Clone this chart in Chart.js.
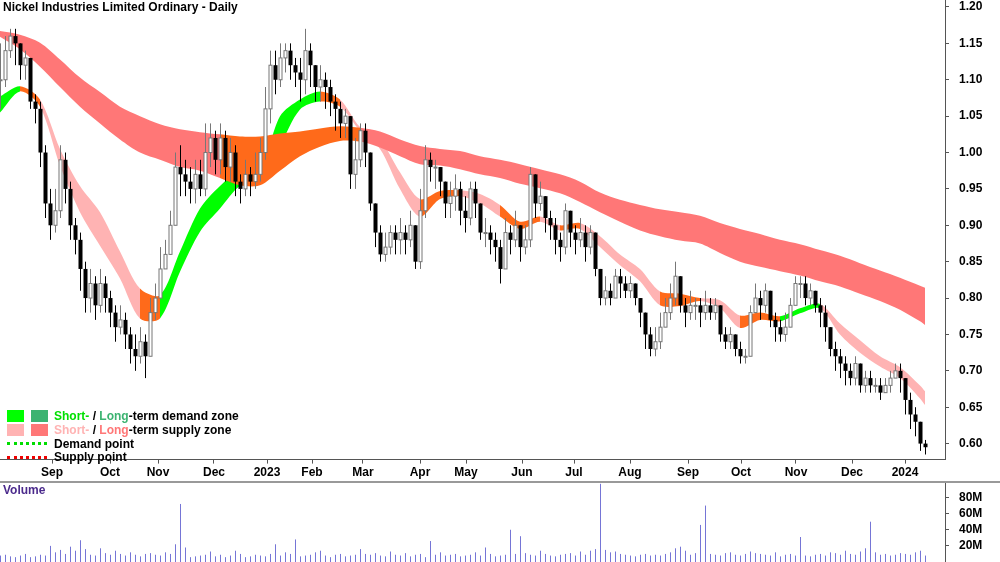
<!DOCTYPE html>
<html>
<head>
<meta charset="utf-8">
<script src="https://cdn.jsdelivr.net/npm/chart.js@4.4.0/dist/chart.umd.min.js"></script>
<style>
  body { margin: 0; background: #fff; font-family: 'Liberation Sans Narrow', 'Liberation Sans', Arial, sans-serif; }
  #wrap { position: relative; width: 1000px; height: 562px; overflow: hidden; }
  #price { position: absolute; left: 0; top: 0; width: 1000px; height: 482px; }
  #volume { position: absolute; left: 0; top: 483px; width: 1000px; height: 79px; }
  #sep { position: absolute; left: 0; top: 481px; width: 1000px; height: 0; border-top: 2px solid #999; }
  .txt { position: absolute; font-size: 12px; font-weight: bold; color: #000; white-space: nowrap; }
  .box { position: absolute; width: 17px; height: 12px; }
  .dot { position: absolute; width: 40px; height: 0; border-top: 3px dotted; }
</style>
</head>
<body>
<div id="wrap">
  <canvas id="price" width="1000" height="482"></canvas>
  <div id="sep"></div>
  <canvas id="volume" width="1000" height="79"></canvas>

  <div class="txt" style="left:3px; top:0px;">Nickel Industries Limited Ordinary - Daily</div>
  <div class="txt" style="left:3px; top:483px; color:#4b2a8c;">Volume</div>

  <div class="box" style="left:7px; top:410px; background:#00ff00;"></div>
  <div class="box" style="left:31px; top:410px; background:#3cb371;"></div>
  <div class="txt" style="left:54px; top:409px;"><span style="color:#00e000">Short-</span> / <span style="color:#3cb371">Long</span>-term demand zone</div>
  <div class="box" style="left:7px; top:424px; background:#ffb3b3;"></div>
  <div class="box" style="left:31px; top:424px; background:#ff7777;"></div>
  <div class="txt" style="left:54px; top:423px;"><span style="color:#ffb3b3">Short-</span> / <span style="color:#ff7777">Long</span>-term supply zone</div>
  <div class="dot" style="left:7px; top:442px; border-color:#00dd00;"></div>
  <div class="txt" style="left:54px; top:437px;">Demand point</div>
  <div class="dot" style="left:7px; top:456px; border-color:#ee0000;"></div>
  <div class="txt" style="left:54px; top:450px;">Supply point</div>
</div>

<script>
// ---------- data (one bar per ~2 trading days) ----------
const closes = [
  1.10,1.14,1.16,1.15,1.12,1.13,1.07,1.06,1.00,0.93,
  0.90,0.92,0.99,0.95,0.90,0.88,0.84,0.80,0.82,0.79,
  0.82,0.80,0.78,0.76,0.77,0.75,0.73,0.72,0.74,0.72,
  0.78,0.80,0.84,0.86,0.90,0.98,0.97,0.96,0.95,0.97,
  0.95,1.00,1.02,0.99,1.02,0.98,1.00,0.96,0.95,0.97,
  0.96,0.97,1.00,1.06,1.12,1.10,1.13,1.14,1.12,1.11,
  1.10,1.14,1.12,1.09,1.10,1.09,1.07,1.06,1.04,1.05,
  0.97,0.99,1.03,1.00,0.93,0.89,0.86,0.87,0.89,0.88,
  0.89,0.88,0.90,0.85,0.92,0.99,0.98,0.98,0.96,0.93,
  0.94,0.95,0.92,0.91,0.95,0.93,0.89,0.89,0.88,0.87,
  0.84,0.89,0.88,0.90,0.87,0.88,0.97,0.93,0.94,0.91,
  0.90,0.88,0.87,0.92,0.89,0.88,0.89,0.87,0.89,0.84,
  0.80,0.81,0.80,0.83,0.82,0.81,0.82,0.80,0.78,0.75,
  0.73,0.74,0.76,0.78,0.80,0.83,0.79,0.78,0.79,0.79,
  0.78,0.79,0.78,0.79,0.75,0.74,0.75,0.73,0.72,0.72,
  0.78,0.80,0.79,0.81,0.77,0.76,0.75,0.76,0.79,0.82,
  0.82,0.80,0.81,0.79,0.78,0.76,0.73,0.72,0.71,0.70,
  0.69,0.71,0.68,0.69,0.68,0.68,0.67,0.68,0.69,0.70,
  0.69,0.66,0.64,0.63,0.60,0.595
];
const highs = [
  1.15,1.16,1.17,1.17,1.15,1.14,1.13,1.08,1.07,1.01,
  0.95,0.95,1.01,1.00,0.96,0.91,0.89,0.85,0.84,0.83,
  0.84,0.83,0.81,0.79,0.79,0.78,0.76,0.75,0.76,0.75,
  0.80,0.82,0.87,0.88,0.92,1.00,1.01,0.99,0.98,0.99,
  0.99,1.04,1.04,1.03,1.04,1.03,1.02,1.01,0.97,0.99,
  0.98,1.00,1.02,1.09,1.14,1.14,1.15,1.15,1.15,1.13,
  1.13,1.17,1.15,1.12,1.12,1.11,1.10,1.08,1.07,1.06,
  1.05,1.02,1.04,1.04,1.00,0.93,0.90,0.89,0.90,0.90,
  0.91,0.90,0.92,0.90,0.95,1.01,1.00,0.99,0.98,0.96,
  0.96,0.97,0.96,0.94,0.96,0.96,0.93,0.91,0.90,0.89,
  0.88,0.91,0.90,0.92,0.90,0.90,0.98,0.97,0.96,0.94,
  0.92,0.91,0.89,0.93,0.92,0.90,0.91,0.90,0.90,0.89,
  0.84,0.83,0.82,0.84,0.84,0.83,0.83,0.82,0.80,0.78,
  0.76,0.76,0.78,0.80,0.82,0.85,0.83,0.80,0.81,0.80,
  0.80,0.81,0.80,0.80,0.79,0.76,0.76,0.75,0.74,0.73,
  0.79,0.82,0.81,0.82,0.81,0.78,0.77,0.78,0.80,0.83,
  0.83,0.83,0.82,0.81,0.80,0.79,0.76,0.74,0.73,0.72,
  0.71,0.72,0.71,0.70,0.70,0.69,0.69,0.69,0.70,0.71,
  0.71,0.69,0.67,0.65,0.63,0.605
];
const lows = [
  1.06,1.09,1.13,1.12,1.10,1.10,1.06,1.04,0.98,0.91,
  0.88,0.89,0.91,0.93,0.88,0.86,0.81,0.78,0.78,0.77,
  0.78,0.78,0.76,0.74,0.75,0.73,0.71,0.70,0.71,0.69,
  0.72,0.77,0.80,0.84,0.86,0.90,0.94,0.94,0.93,0.93,
  0.94,0.94,0.98,0.97,0.97,0.96,0.96,0.94,0.93,0.94,
  0.94,0.95,0.96,0.99,1.04,1.08,1.09,1.11,1.10,1.09,
  1.07,1.08,1.09,1.07,1.07,1.06,1.05,1.03,1.02,1.02,
  0.95,0.95,0.98,0.98,0.92,0.87,0.85,0.85,0.86,0.86,
  0.86,0.86,0.87,0.84,0.84,0.91,0.96,0.95,0.94,0.91,
  0.91,0.92,0.90,0.89,0.90,0.91,0.88,0.87,0.86,0.85,
  0.82,0.84,0.86,0.87,0.85,0.86,0.87,0.91,0.92,0.89,
  0.88,0.86,0.85,0.86,0.87,0.86,0.87,0.85,0.86,0.83,
  0.79,0.79,0.79,0.80,0.80,0.80,0.80,0.79,0.76,0.73,
  0.72,0.72,0.73,0.76,0.77,0.79,0.78,0.76,0.77,0.77,
  0.76,0.77,0.77,0.77,0.74,0.73,0.73,0.72,0.71,0.71,
  0.72,0.78,0.77,0.78,0.76,0.74,0.74,0.74,0.76,0.79,
  0.80,0.79,0.79,0.78,0.76,0.74,0.72,0.70,0.69,0.68,
  0.68,0.68,0.67,0.67,0.67,0.67,0.66,0.67,0.67,0.69,
  0.67,0.64,0.62,0.61,0.59,0.585
];
const volumes = [ // millions
  8,9,7,6,8,10,6,7,9,8,
  20,12,15,10,19,14,27,16,9,8,
  17,11,9,14,10,8,12,9,7,10,
  11,9,8,12,10,22,72,18,6,7,
  8,9,13,7,9,6,8,14,10,6,
  7,9,8,7,10,22,8,12,10,28,
  7,8,9,12,14,8,6,9,10,7,
  8,9,16,10,9,11,8,7,13,9,
  8,11,7,9,10,6,26,9,12,8,
  9,10,7,8,9,12,8,18,10,7,
  8,9,40,10,32,11,9,8,14,10,
  8,7,9,10,11,8,13,9,14,16,
  97,15,12,13,10,9,8,7,9,10,
  8,9,8,10,12,17,19,14,9,11,
  46,70,10,9,8,11,12,9,8,10,
  13,11,10,9,8,12,7,9,10,8,
  31,8,7,9,10,8,12,11,9,14,
  10,9,13,17,50,12,9,10,8,9,
  11,10,9,12,14,8
];

// bands, sampled every 4 bars
const bandX = [0,4,8,12,16,20,24,28,32,36,40,44,48,52,56,60,64,68,72,76,80,84,88,92,96,100,
  104,108,112,116,120,124,128,132,136,140,144,148,152,156,160,164,168,172,176,180,184,185];
const longUpper = [1.167,1.162,1.151,1.128,1.103,1.083,1.063,1.05,1.039,1.032,1.028,1.025,1.022,1.022,
  1.026,1.029,1.033,1.036,1.034,1.029,1.018,1.009,1.005,1.002,0.995,0.99,0.984,0.977,0.97,0.96,
  0.945,0.935,0.928,0.922,0.918,0.913,0.903,0.895,0.888,0.88,0.874,0.866,0.858,0.848,0.838,0.828,0.817,0.814];
const longLower = [1.159,1.142,1.118,1.09,1.063,1.04,1.018,1.0,0.99,0.98,0.975,0.965,0.955,0.955,
  0.975,0.995,1.008,1.016,1.015,1.007,0.995,0.984,0.982,0.977,0.97,0.965,0.957,0.951,0.944,0.932,
  0.918,0.905,0.893,0.885,0.879,0.875,0.862,0.85,0.843,0.837,0.831,0.823,0.816,0.806,0.796,0.784,0.768,0.763];
const longZone = ['S','S','S','S','S','S','S','S','S','S','S','S','X','X','X','X','X','X','X','S','S',
  'S','S','S','S','S','S','S','S','S','S','S','S','S','S','S','S','S','S','S','S','S','S','S','S','S','S','S'];
const shortUpper = [1.077,1.091,1.073,1.005,0.954,0.918,0.864,0.813,0.804,0.864,0.923,0.954,0.975,0.977,
  1.05,1.073,1.084,1.073,1.035,1.018,0.973,0.936,0.947,0.948,0.943,0.928,0.905,0.912,0.90,0.903,
  0.885,0.86,0.84,0.809,0.806,0.80,0.797,0.776,0.78,0.775,0.786,0.792,0.765,0.742,0.72,0.705,0.68,0.672];
const shortLower = [1.055,1.084,1.063,0.982,0.918,0.872,0.827,0.772,0.772,0.836,0.891,0.923,0.954,0.959,
  1.009,1.059,1.07,1.063,1.03,1.005,0.95,0.912,0.936,0.94,0.93,0.912,0.895,0.905,0.893,0.895,
  0.87,0.845,0.823,0.79,0.789,0.796,0.786,0.759,0.77,0.768,0.779,0.786,0.75,0.725,0.706,0.69,0.662,0.653];
const shortZone = ['D','D','X','S','S','S','S','S','X','D','D','D','D','D','D','D','D','X','S','S','S','S',
  'X','X','S','S','X','X','S','X','S','S','S','S','X','X','S','S','X','X','D','D','S','S','S','S','S','S'];

const monthPos = [10.4,22,31.6,42.8,53.4,62.4,72.6,84,93.2,104.4,114.8,126,137.6,148.2,159.2,170.4,181];
const monthLabels = ['Sep','Oct','Nov','Dec','2023','Feb','Mar','Apr','May','Jun','Jul','Aug','Sep','Oct','Nov','Dec','2024'];
const priceTicks = [0.60,0.65,0.70,0.75,0.80,0.85,0.90,0.95,1.00,1.05,1.10,1.15,1.20];
const volumeTicks = [20,40,60,80];

// ---------- styles ----------
const ZONE_COLORS = {
  long:  { S: '#ff7777', D: '#3cb371', X: '#ff6a1a' },
  short: { S: '#ffb3b3', D: '#00ff00', X: '#ff6a1a' }
};
const AXIS_FONT = { family: "'Liberation Sans Narrow', 'Liberation Sans', Arial", size: 12, weight: 'bold' };

// right axis: fixed width, no label overhang padding
function fitRightAxis(axis) {
  axis.width = 55;
  axis.paddingTop = 0;
  axis.paddingBottom = 0;
}

function bandDatasets(upper, lower, zone, colors) {
  const pts = arr => arr.map((v, i) => ({ x: bandX[i], y: v }));
  return [
    { data: pts(upper), borderWidth: 0, pointRadius: 0, fill: false, tension: 0.3 },
    {
      data: pts(lower), borderWidth: 0, pointRadius: 0, tension: 0.3,
      fill: '-1', backgroundColor: colors[zone[0]],
      segment: { backgroundColor: ctx => colors[zone[ctx.p1DataIndex]] }
    }
  ];
}

// candles drawn on top of the bands
const candlePlugin = {
  id: 'candles',
  afterDatasetsDraw(chart) {
    const { ctx, scales: { x, y } } = chart;
    ctx.save();
    closes.forEach((c, i) => {
      const o = i > 0 ? closes[i - 1] : c;
      const px = Math.round(x.getPixelForValue(i)) + 0.5;
      const up = c >= o;
      ctx.strokeStyle = up ? '#777' : '#000';
      ctx.lineWidth = 1;
      ctx.beginPath();
      ctx.moveTo(px, y.getPixelForValue(highs[i]));
      ctx.lineTo(px, y.getPixelForValue(lows[i]));
      ctx.stroke();
      const top = y.getPixelForValue(Math.max(o, c));
      const bot = y.getPixelForValue(Math.min(o, c));
      const h = Math.max(bot - top, 1);
      if (up) {
        ctx.fillStyle = '#fff';
        ctx.fillRect(px - 1.5, top, 3, h);
        ctx.strokeRect(px - 1.5, top, 3, h);
      } else {
        ctx.fillStyle = '#000';
        ctx.fillRect(px - 2, top, 4, h);
      }
    });
    ctx.restore();
  }
};

// volume bars drawn straight through the scales
const volumePlugin = {
  id: 'volbars',
  afterDatasetsDraw(chart) {
    const { ctx, scales: { x, y } } = chart;
    ctx.save();
    ctx.fillStyle = '#7575d6';
    volumes.forEach((v, i) => {
      const px = Math.round(x.getPixelForValue(i));
      const top = y.getPixelForValue(v);
      ctx.fillRect(px, top, 1, y.getPixelForValue(0) - top);
    });
    ctx.restore();
  }
};

new Chart(document.getElementById('price'), {
  type: 'line',
  data: {
    datasets: [
      ...bandDatasets(longUpper, longLower, longZone, ZONE_COLORS.long),
      ...bandDatasets(shortUpper, shortLower, shortZone, ZONE_COLORS.short)
    ]
  },
  options: {
    responsive: false,
    maintainAspectRatio: false,
    animation: false,
    layout: { padding: 0 },
    plugins: { legend: { display: false }, tooltip: { enabled: false } },
    scales: {
      x: {
        type: 'linear', min: 0, max: 189,
        afterBuildTicks: axis => { axis.ticks = monthPos.map(v => ({ value: v })); },
        ticks: {
          autoSkip: false, maxRotation: 0, color: '#000', font: AXIS_FONT, padding: 2,
          callback: (v, i) => monthLabels[i]
        },
        grid: { drawOnChartArea: false, drawTicks: true, tickLength: 4, color: '#555' },
        border: { color: '#555' }
      },
      y: {
        position: 'right', min: 0.578, max: 1.2096,
        afterBuildTicks: axis => { axis.ticks = priceTicks.map(v => ({ value: v })); },
        afterFit: fitRightAxis,
        ticks: { color: '#000', font: AXIS_FONT, padding: 10, callback: v => v.toFixed(2) },
        grid: { drawOnChartArea: false, tickLength: 4, color: '#555' },
        border: { color: '#555' }
      }
    }
  },
  plugins: [candlePlugin]
});

new Chart(document.getElementById('volume'), {
  type: 'line',
  data: { datasets: [{ data: [], pointRadius: 0 }] },
  options: {
    responsive: false,
    maintainAspectRatio: false,
    animation: false,
    layout: { padding: 0 },
    plugins: { legend: { display: false }, tooltip: { enabled: false } },
    scales: {
      x: { type: 'linear', min: 0, max: 189, display: false },
      y: {
        position: 'right', min: 0, max: 98,
        afterBuildTicks: axis => { axis.ticks = volumeTicks.map(v => ({ value: v })); },
        afterFit: fitRightAxis,
        ticks: { color: '#000', font: AXIS_FONT, padding: 10, callback: v => v + 'M' },
        grid: { drawOnChartArea: false, tickLength: 4, color: '#555' },
        border: { color: '#555' }
      }
    }
  },
  plugins: [volumePlugin]
});
</script>
</body>
</html>
